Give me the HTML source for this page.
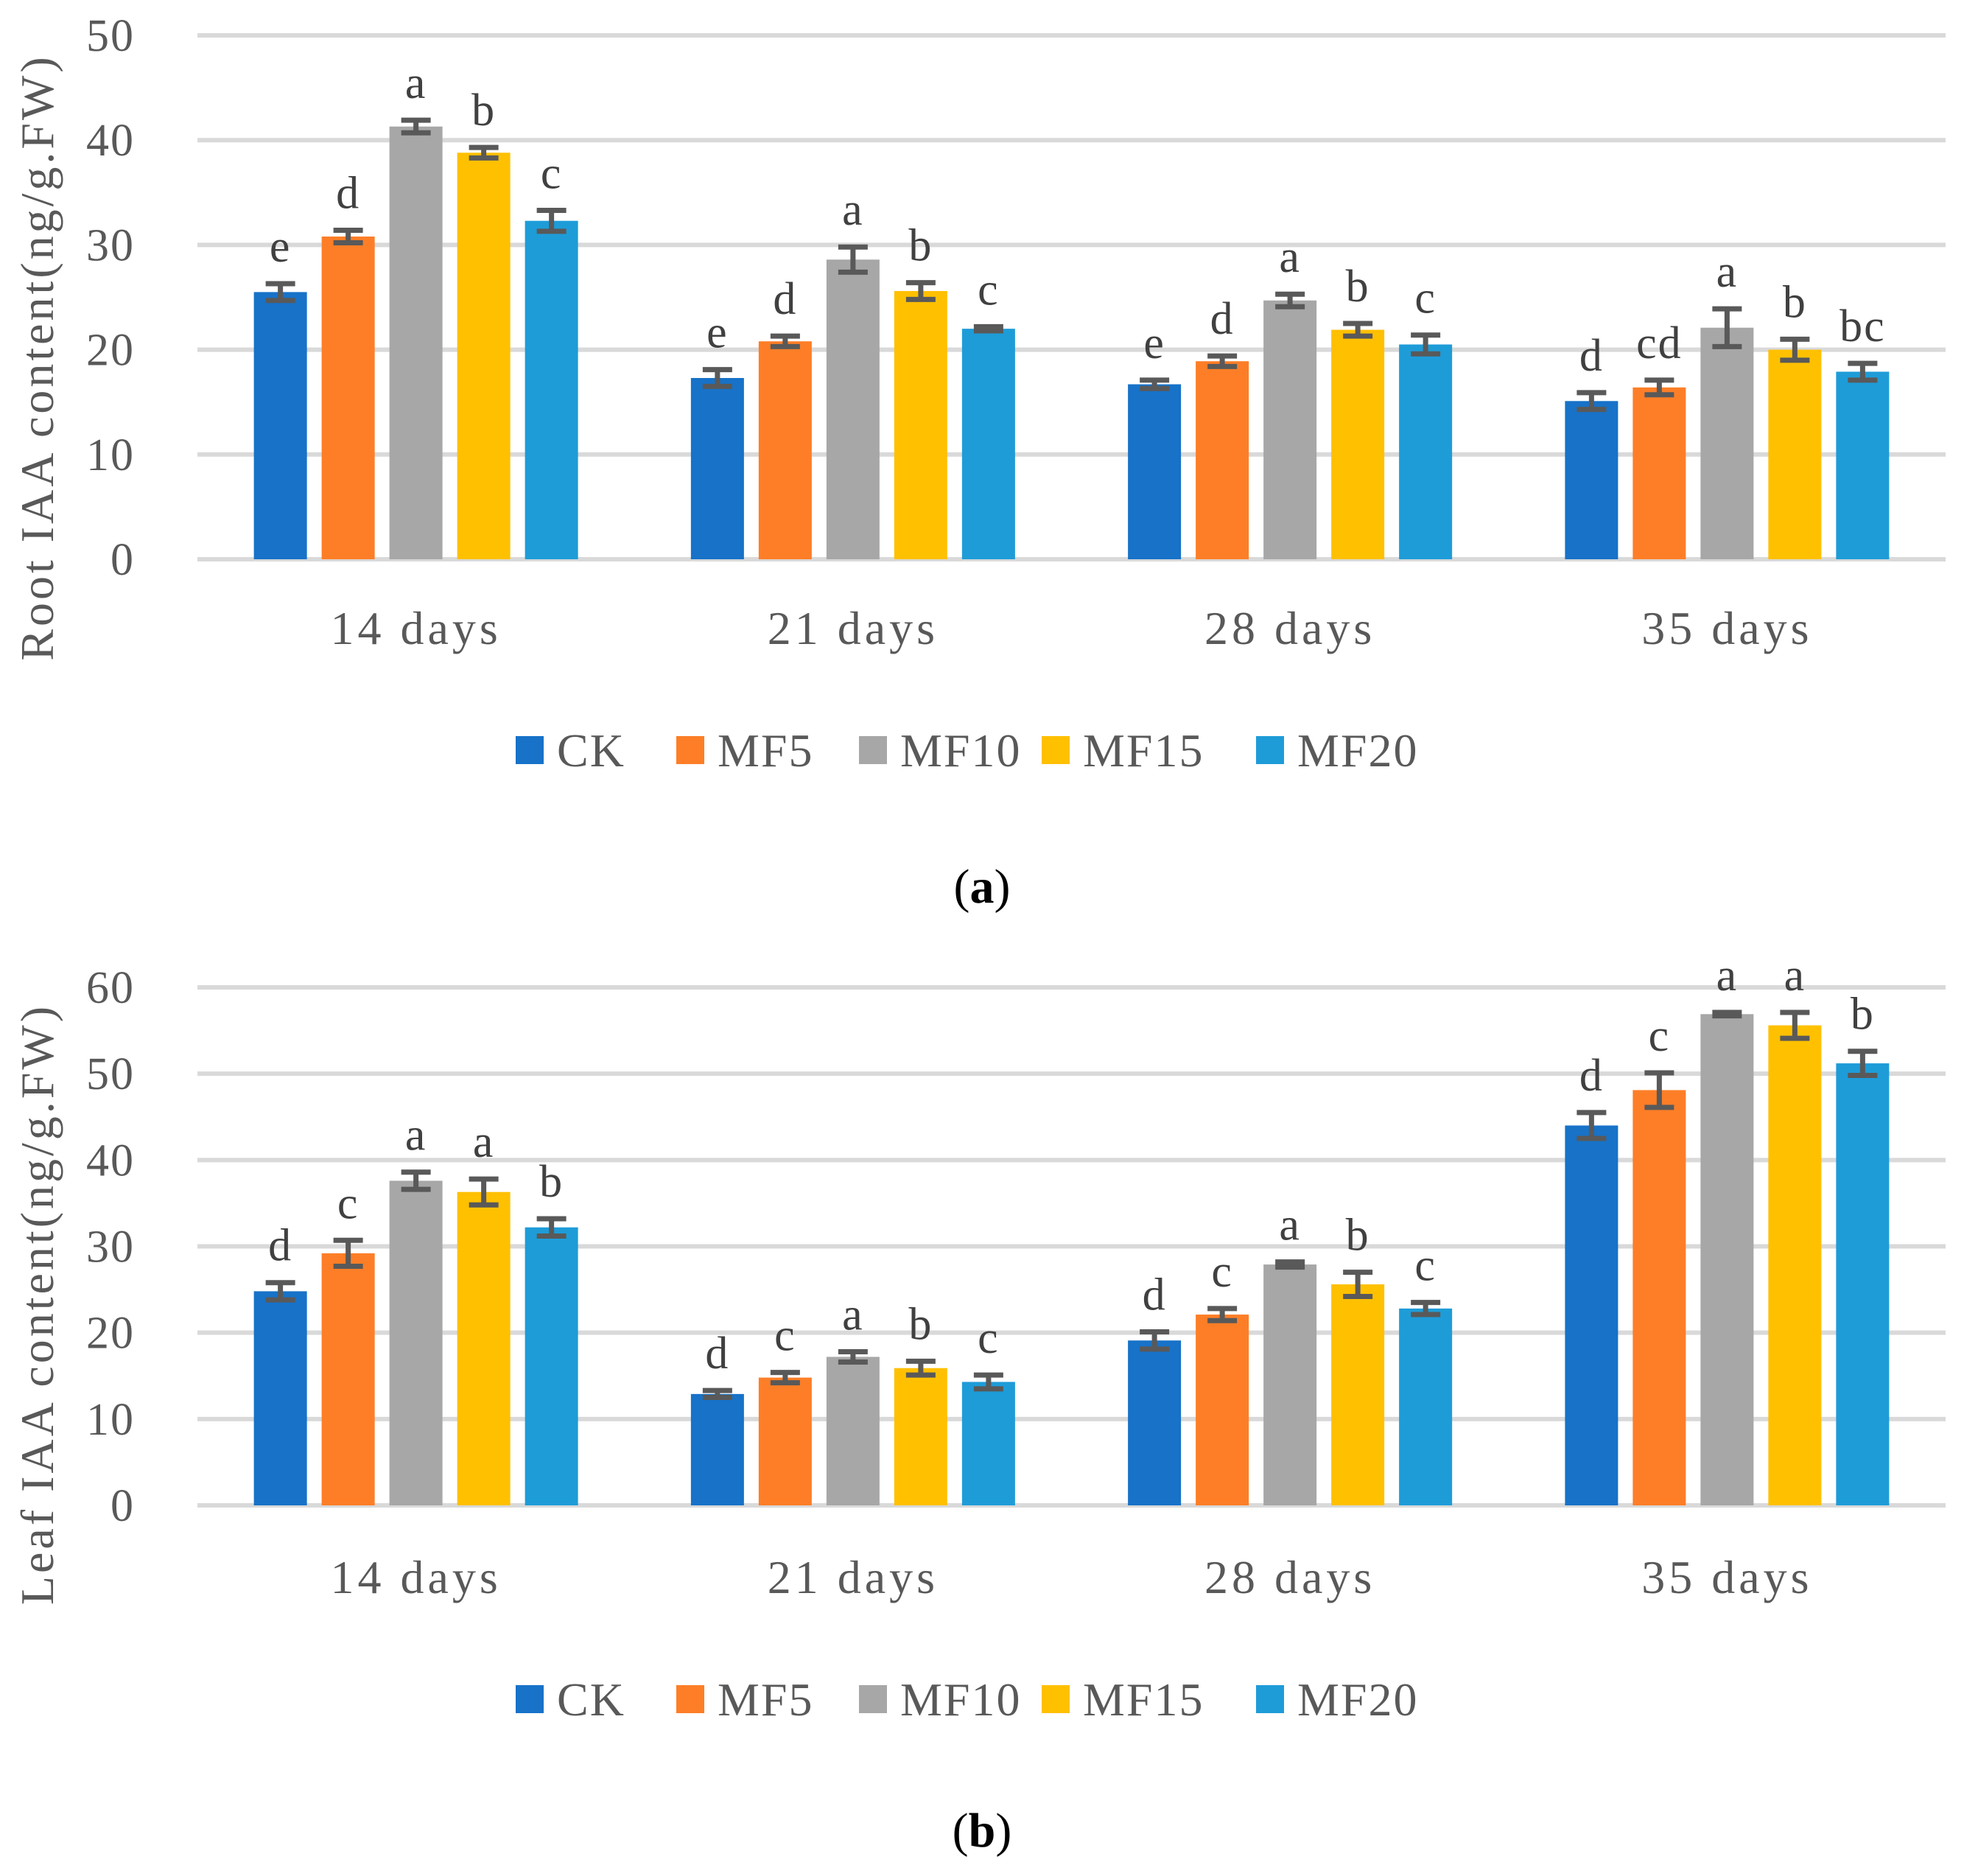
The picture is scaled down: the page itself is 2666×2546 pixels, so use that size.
<!DOCTYPE html>
<html><head><meta charset="utf-8"><style>
html,body{margin:0;padding:0;background:#fff;}
svg{display:block;font-family:"Liberation Serif",serif;}
</style></head><body>
<svg id="fig" width="2666" height="2546" viewBox="0 0 2666 2546" xmlns="http://www.w3.org/2000/svg"></svg>
<script>
const categories = ["14 days","21 days","28 days","35 days"];
const seriesNames = ["CK","MF5","MF10","MF15","MF20"];
const colors = ["#1772C8","#FD7E27","#A7A7A7","#FFC000","#1E9CD8"];
// Panel (a) Root IAA
const rootCK   = [25.5,17.3,16.7,15.1];
const rootMF5  = [30.8,20.8,18.9,16.4];
const rootMF10 = [41.3,28.6,24.7,22.1];
const rootMF15 = [38.8,25.6,21.9,20.0];
const rootMF20 = [32.3,22.0,20.5,17.9];
const rootErrCK   = [0.8,0.8,0.4,0.8];
const rootErrMF5  = [0.6,0.5,0.5,0.7];
const rootErrMF10 = [0.6,1.2,0.6,1.8];
const rootErrMF15 = [0.5,0.8,0.6,1.0];
const rootErrMF20 = [1.0,0.2,0.9,0.8];
const rootLetters = [["e","d","a","b","c"],["e","d","a","b","c"],["e","d","a","b","c"],["d","cd","a","b","bc"]];
const rootTicks = [0,10,20,30,40,50];
// Panel (b) Leaf IAA
const leafCK   = [24.8,12.9,19.1,44.0];
const leafMF5  = [29.2,14.8,22.1,48.1];
const leafMF10 = [37.6,17.2,27.9,56.9];
const leafMF15 = [36.3,15.9,25.6,55.6];
const leafMF20 = [32.2,14.3,22.8,51.2];
const leafErrCK   = [1.0,0.4,1.0,1.5];
const leafErrMF5  = [1.5,0.6,0.7,2.0];
const leafErrMF10 = [1.0,0.6,0.3,0.2];
const leafErrMF15 = [1.5,0.8,1.4,1.5];
const leafErrMF20 = [1.0,0.8,0.7,1.4];
const leafLetters = [["d","c","a","a","b"],["d","c","a","b","c"],["d","c","a","b","c"],["d","c","a","a","b"]];
const leafTicks = [0,10,20,30,40,50,60];

const NS="http://www.w3.org/2000/svg";
const svg=document.getElementById('fig');
function mk(tag,attrs,parent){const e=document.createElementNS(NS,tag);for(const k in attrs)e.setAttribute(k,attrs[k]);(parent||svg).appendChild(e);return e;}

function panel(cfg){
  const g=mk('g',{});
  
  
  const x0=268,x1=2641;
  const yScale=v=>cfg.y0-(v-0)*(cfg.y0-cfg.yTop)/cfg.max;
  const catW=(x1-x0)/categories.length;
  cfg.ticks.forEach(t=>{
    const y=yScale(t);
    const l=mk('line',{x1:x0,x2:x1,y1:y,y2:y,stroke:'#D9D9D9','stroke-width':6},g);
    
    
    const tx=mk('text',{x:183,y:y+21,'text-anchor':'end','font-size':62,'letter-spacing':2,fill:'#595959'},g);
    
    
    tx.textContent=t;
  });
  const yt=mk('text',{x:0,y:0,'text-anchor':'middle','font-size':64,'letter-spacing':4,fill:'#595959',transform:`translate(72,${cfg.titleY}) rotate(-90)`},g);
  
  
  yt.textContent=cfg.title;
  const barW=72,stride=92;
  categories.forEach((c,ci)=>{
    const cx=x0+catW*(ci+0.5);
    const cl=mk('text',{x:cx,y:cfg.catY,'text-anchor':'middle','font-size':64,'letter-spacing':5,fill:'#595959'},g);
    
    
    cl.textContent=c;
    cfg.vals.forEach((arr,si)=>{
      const v=arr[ci],e=cfg.errs[si][ci];
      const bx=cx-(4*stride+barW)/2+si*stride;
      const r=mk('rect',{x:bx,y:yScale(v),width:barW,height:cfg.y0-yScale(v),fill:colors[si]},g);
      
      
      const mx=bx+barW/2,yt2=yScale(v+e),yb=yScale(v-e);
      const eb=mk('path',{d:`M${mx-20},${yt2}H${mx+20}M${mx},${yt2}V${yb}M${mx-20},${yb}H${mx+20}`,stroke:'#595959','stroke-width':7,fill:'none'},g);
      
      
      const lt=mk('text',{x:mx,y:yt2-30,'text-anchor':'middle','font-size':62,'letter-spacing':2,fill:'#404040'},g);
      
      
      lt.textContent=cfg.letters[ci][si];
    });
  });
  const legX=[700,918,1166,1414,1705];
  seriesNames.forEach((n,si)=>{
    const lg=mk('g',{},g);
    
    
    mk('rect',{x:legX[si],y:cfg.legY-19,width:38,height:38,fill:colors[si]},lg);
    const t=mk('text',{x:legX[si]+56,y:cfg.legY+22,'font-size':64,'letter-spacing':2,fill:'#595959'},lg);
    t.textContent=n;
  });
  const cap=mk('text',{x:1333,y:cfg.capY,'text-anchor':'middle','font-size':66,fill:'#000'},g);
  
  
  cap.innerHTML='(<tspan font-weight="bold">'+cfg.cap+'</tspan>)';
}
panel({name:'root-iaa-chart',y0:759,yTop:48,max:50,ticks:rootTicks,
  vals:[rootCK,rootMF5,rootMF10,rootMF15,rootMF20],
  errs:[rootErrCK,rootErrMF5,rootErrMF10,rootErrMF15,rootErrMF20],
  letters:rootLetters,title:'Root IAA content(ng/g.FW)',titleY:485,catY:874,legY:1018,capY:1225,cap:'a'});
panel({name:'leaf-iaa-chart',y0:2043,yTop:1340,max:60,ticks:leafTicks,
  vals:[leafCK,leafMF5,leafMF10,leafMF15,leafMF20],
  errs:[leafErrCK,leafErrMF5,leafErrMF10,leafErrMF15,leafErrMF20],
  letters:leafLetters,title:'Leaf IAA content(ng/g.FW)',titleY:1770,catY:2162,legY:2306,capY:2506,cap:'b'});
</script>
</body></html>
